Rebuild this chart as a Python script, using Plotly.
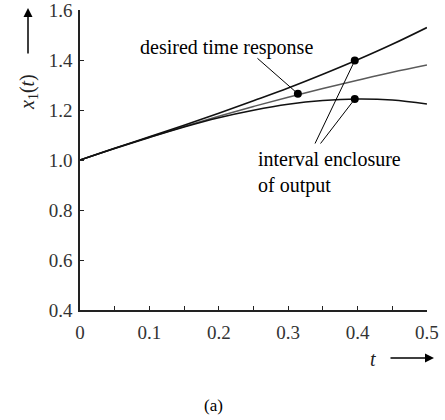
import plotly.graph_objects as go

t = [0.0, 0.05, 0.1, 0.15, 0.2, 0.25, 0.3, 0.35, 0.4, 0.45, 0.5]
upper = [1.000, 1.047, 1.093, 1.139, 1.187, 1.237, 1.288, 1.343, 1.401, 1.463, 1.530]
desired = [1.000, 1.047, 1.091, 1.134, 1.175, 1.214, 1.251, 1.286, 1.319, 1.351, 1.380]
lower = [1.000, 1.046, 1.090, 1.132, 1.169, 1.199, 1.223, 1.238, 1.244, 1.240, 1.224]

dot_t = [0.396, 0.314, 0.396]
dot_y = [1.398, 1.265, 1.244]

xtick_vals = [0.0, 0.05, 0.1, 0.15, 0.2, 0.25, 0.3, 0.35, 0.4, 0.45, 0.5]
xtick_text = ["0", "", "0.1", "", "0.2", "", "0.3", "", "0.4", "", "0.5"]
ytick_vals = [0.4, 0.6, 0.8, 1.0, 1.2, 1.4, 1.6]
ytick_text = ["0.4", "0.6", "0.8", "1.0", "1.2", "1.4", "1.6"]

SERIF = "Liberation Serif, Times New Roman, serif"

fig = go.Figure()
fig.add_trace(go.Scatter(x=t, y=desired, mode="lines", line=dict(color="#5a5a5a", width=1.4, shape="spline")))
fig.add_trace(go.Scatter(x=t, y=upper, mode="lines", line=dict(color="#111111", width=1.6, shape="spline")))
fig.add_trace(go.Scatter(x=t, y=lower, mode="lines", line=dict(color="#111111", width=1.6, shape="spline")))
fig.add_trace(go.Scatter(x=dot_t, y=dot_y, mode="markers", marker=dict(color="black", size=8)))


def px(xp):
    return (xp - 80) / 347


def py(yp):
    return (310 - yp) / 300


ann = []
# leader lines
ann.append(dict(x=dot_t[1], y=dot_y[1], ax=0.2536, ay=1.412, xref="x", yref="y", axref="x", ayref="y",
                showarrow=True, arrowhead=0, arrowwidth=1, arrowcolor="black", text=""))
ann.append(dict(x=dot_t[0], y=dot_y[0], ax=0.3377, ay=1.06, xref="x", yref="y", axref="x", ayref="y",
                showarrow=True, arrowhead=0, arrowwidth=1, arrowcolor="black", text=""))
ann.append(dict(x=dot_t[2], y=dot_y[2], ax=0.345, ay=1.06, xref="x", yref="y", axref="x", ayref="y",
                showarrow=True, arrowhead=0, arrowwidth=1, arrowcolor="black", text=""))
# texts
ann.append(dict(x=0.211, y=1.452, xref="x", yref="y", text="desired time response", showarrow=False,
                font=dict(family=SERIF, size=20, color="black"), xanchor="center", yanchor="middle"))
ann.append(dict(x=0.2536, y=1.055, xref="x", yref="y", text="interval enclosure<br>of output", showarrow=False,
                font=dict(family=SERIF, size=20, color="black"), xanchor="left", yanchor="top", align="left"))
# axis titles with arrows
ann.append(dict(x=px(28), y=py(92), xref="paper", yref="paper", text="<i>x</i><sub>1</sub>(<i>t</i>)",
                showarrow=False, textangle=-90, xanchor="center", yanchor="middle",
                font=dict(family=SERIF, size=20, color="#222222")))
ann.append(dict(x=px(28), y=py(8), xref="paper", yref="paper", ax=0, ay=47, text="",
                showarrow=True, arrowhead=2, arrowsize=1.2, arrowwidth=1.5, arrowcolor="black"))
ann.append(dict(x=px(373), y=py(359), xref="paper", yref="paper", text="<i>t</i>",
                showarrow=False, xanchor="center", yanchor="middle",
                font=dict(family=SERIF, size=20, color="#222222")))
ann.append(dict(x=px(434), y=py(358), xref="paper", yref="paper", ax=-45, ay=0, text="",
                showarrow=True, arrowhead=2, arrowsize=1.2, arrowwidth=1.5, arrowcolor="black"))
ann.append(dict(x=px(213), y=py(405), xref="paper", yref="paper", text="(a)",
                showarrow=False, xanchor="center", yanchor="middle",
                font=dict(family=SERIF, size=17, color="black")))

fig.update_layout(
    width=445, height=420,
    margin=dict(l=80, r=18, t=10, b=110, autoexpand=False),
    paper_bgcolor="white", plot_bgcolor="white",
    showlegend=False,
    annotations=ann,
    xaxis=dict(range=[0, 0.5001], tickvals=xtick_vals, ticktext=xtick_text, ticks="inside", ticklen=4,
               tickcolor="#222222", showline=True, linecolor="#222222", linewidth=1.5, showgrid=False,
               zeroline=False, tickfont=dict(family=SERIF, size=19, color="#333333"), ticklabelstandoff=4,
               ticklabeloverflow="allow", automargin=False),
    yaxis=dict(range=[0.4, 1.6001], tickvals=ytick_vals, ticktext=ytick_text, ticks="inside", ticklen=4,
               tickcolor="#222222", showline=True, linecolor="#222222", linewidth=1.5, showgrid=False,
               zeroline=False, tickfont=dict(family=SERIF, size=19, color="#333333"), ticklabelstandoff=2,
               ticklabeloverflow="allow", automargin=False),
)

fig.write_html("out.html", config={"displayModeBar": False},
               post_script="document.body.style.margin='0';document.body.style.overflow='hidden';")
